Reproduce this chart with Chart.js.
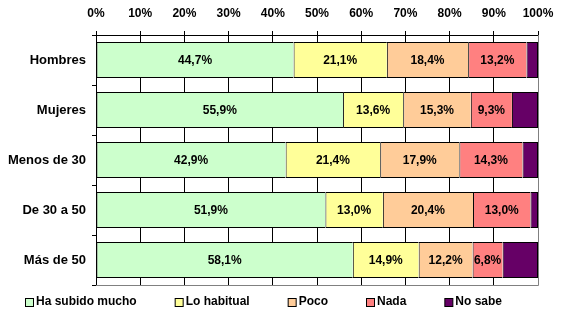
<!DOCTYPE html>
<html>
<head>
<meta charset="utf-8">
<script src="https://cdn.jsdelivr.net/npm/chart.js@4"></script>
<style>
    html, body { margin: 0; padding: 0; background: #ffffff; }
    #wrap { width: 567px; height: 322px; }
</style>
</head>
<body>
<div id="wrap"><canvas id="chart" width="567" height="322"></canvas></div>
<script>
const grupos = ['Hombres', 'Mujeres', 'Menos de 30', 'De 30 a 50', 'Más de 50'];
const haSubidoMucho = [44.7, 55.9, 42.9, 51.9, 58.1];
const loHabitual = [21.1, 13.6, 21.4, 13.0, 14.9];
const poco = [18.4, 15.3, 17.9, 20.4, 12.2];
const nada = [13.2, 9.3, 14.3, 13.0, 6.8];
const noSabe = [2.6, 5.9, 3.5, 1.7, 8.0];
const series = ['Ha subido mucho', 'Lo habitual', 'Poco', 'Nada', 'No sabe'];
const colores = ['#CCFFCC', '#FFFF99', '#FFCC99', '#FF8080', '#660066'];

const FONT = 'Liberation Sans, Arial, sans-serif';

function fmt(v) {
    return v.toFixed(1).replace('.', ',') + '%';
}

// etiquetas dentro de las barras (sin "No sabe")
const etiquetas = {
    id: 'etiquetas',
    afterDatasetsDraw(chart) {
        const ctx = chart.ctx;
        ctx.save();
        ctx.font = 'bold 12px ' + FONT;
        ctx.fillStyle = '#000';
        ctx.textAlign = 'center';
        ctx.textBaseline = 'middle';
        chart.data.datasets.forEach((ds, i) => {
            if (!ds.showLabels) return;
            chart.getDatasetMeta(i).data.forEach((bar, j) => {
                const p = bar.getCenterPoint();
                ctx.fillText(fmt(ds.data[j]), p.x, p.y + 1);
            });
        });
        ctx.restore();
    }
};

// borde gris derecho e inferior del area
const borde = {
    id: 'borde',
    beforeDatasetsDraw(chart) {
        const a = chart.chartArea;
        const ctx = chart.ctx;
        ctx.save();
        ctx.strokeStyle = '#808080';
        ctx.lineWidth = 1;
        ctx.beginPath();
        ctx.moveTo(Math.round(a.right) + 0.5, a.top);
        ctx.lineTo(Math.round(a.right) + 0.5, Math.round(a.bottom) + 0.5);
        ctx.lineTo(a.left, Math.round(a.bottom) + 0.5);
        ctx.stroke();
        ctx.restore();
    }
};

// leyenda dibujada a mano para separar como el original
const leyenda = {
    id: 'leyenda',
    afterDraw(chart) {
        const ctx = chart.ctx;
        ctx.save();
        ctx.font = 'bold 12px ' + FONT;
        ctx.textBaseline = 'middle';
        ctx.textAlign = 'left';
        let x = 25;
        const y = 302;
        chart.data.datasets.forEach(ds => {
            ctx.fillStyle = ds.backgroundColor;
            ctx.fillRect(x + 0.5, y - 4 + 0.5, 8, 8);
            ctx.strokeStyle = '#000';
            ctx.lineWidth = 1;
            ctx.strokeRect(x + 0.5, y - 4 + 0.5, 8, 8);
            ctx.fillStyle = '#000';
            ctx.fillText(ds.label, x + 11, y);
            x += 11 + ctx.measureText(ds.label).width + 38;
        });
        ctx.restore();
    }
};

const valores = [haSubidoMucho, loHabitual, poco, nada, noSabe];

const ctx = document.getElementById('chart').getContext('2d');
const myChart = new Chart(ctx, {
    type: 'bar',
    data: {
        labels: grupos,
        datasets: series.map((s, i) => ({
            label: s,
            data: valores[i],
            backgroundColor: colores[i],
            borderColor: '#000000',
            borderWidth: { top: 1, bottom: 1, left: 1, right: i === series.length - 1 ? 1 : 0 },
            borderSkipped: false,
            inflateAmount: 0,
            categoryPercentage: 0.72,
            barPercentage: 1.0,
            showLabels: i < 4,
        }))
    },
    options: {
        indexAxis: 'y',
        responsive: false,
        animation: false,
        devicePixelRatio: 1,
        layout: {
            padding: { left: 0, right: 29, top: 0, bottom: 37 }
        },
        plugins: {
            legend: { display: false },
            tooltip: { enabled: false },
        },
        scales: {
            x: {
                position: 'top',
                stacked: true,
                min: 0,
                max: 100,
                afterFit: function (scale) {
                    scale.height = 35;
                },
                ticks: {
                    stepSize: 10,
                    padding: 10,
                    color: '#000',
                    font: { family: FONT, size: 12, weight: 'bold' },
                    callback: function (value) {
                        return value + '%';
                    },
                },
                grid: {
                    color: '#000',
                    lineWidth: 1,
                    tickLength: 4,
                    drawOnChartArea: true,
                },
                border: { color: '#000', width: 1 },
            },
            y: {
                stacked: true,
                afterFit: function (scale) {
                    scale.width = 96;
                },
                ticks: {
                    padding: 6,
                    color: '#000',
                    font: { family: FONT, size: 13, weight: 'bold' },
                },
                grid: {
                    color: '#000',
                    drawOnChartArea: false,
                    tickLength: 4,
                },
                border: { color: '#000', width: 1 },
            }
        }
    },
    plugins: [borde, etiquetas, leyenda]
});
</script>
</body>
</html>
